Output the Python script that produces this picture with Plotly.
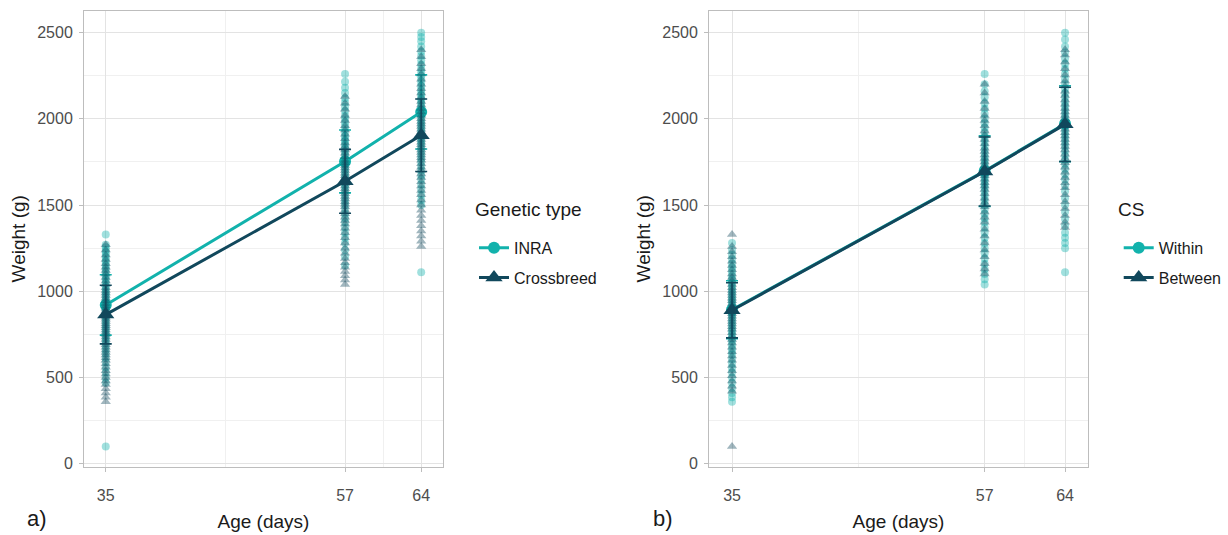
import plotly.graph_objects as go

# ---------------- data ----------------
AGES = [35, 57, 64]
TICK_X = [35, 57, 64]
TICK_Y = [0, 500, 1000, 1500, 2000, 2500]

# Panel a) : Genetic type
INRA_35 = [100, 470, 500, 530, 560, 590, 615, 640, 660, 680, 700, 715, 730, 745, 760, 775, 790, 805, 820, 835, 850,
           862, 875, 888, 900, 912, 925, 938, 950, 962, 975, 988, 1000, 1015, 1030, 1045, 1060, 1075, 1090, 1105,
           1120, 1135, 1150, 1165, 1180, 1195, 1210, 1225, 1240, 1255, 1270, 1330]
INRA_57 = [1150, 1200, 1240, 1280, 1310, 1340, 1370, 1400, 1425, 1450, 1475, 1500, 1520, 1540, 1560, 1580, 1600, 1615,
           1630, 1645, 1660, 1675, 1690, 1705, 1720, 1735, 1750, 1765, 1780, 1795, 1810, 1825, 1840, 1855, 1870, 1885,
           1900, 1920, 1940, 1960, 1980, 2000, 2020, 2045, 2070, 2095, 2120, 2150, 2180, 2215, 2260]
INRA_64 = [1110, 1500, 1530, 1560, 1590, 1620, 1650, 1675, 1700, 1725, 1750, 1770, 1790, 1810, 1830, 1850, 1865, 1880,
           1895, 1910, 1925, 1940, 1955, 1970, 1985, 2000, 2015, 2030, 2045, 2060, 2075, 2090, 2105, 2120, 2135, 2150,
           2170, 2190, 2210, 2230, 2250, 2270, 2290, 2315, 2340, 2365, 2390, 2420, 2450, 2475, 2500]
CROSS_35 = [360, 385, 410, 435, 460, 480, 500, 520, 540, 560, 580, 600, 615, 630, 645, 660, 675, 690, 705, 720, 735,
            750, 762, 775, 788, 800, 812, 825, 838, 850, 862, 875, 888, 900, 915, 930, 945, 960, 975, 990, 1005, 1020,
            1040, 1060, 1080, 1100, 1120, 1140, 1160, 1185, 1210, 1240, 1270]
CROSS_57 = [1040, 1065, 1090, 1115, 1140, 1165, 1190, 1220, 1250, 1280, 1310, 1340, 1365, 1390, 1410, 1430, 1450, 1470,
            1490, 1505, 1520, 1535, 1550, 1565, 1580, 1595, 1610, 1625, 1640, 1655, 1670, 1685, 1700, 1715, 1730, 1745,
            1760, 1780, 1800, 1820, 1840, 1860, 1885, 1910, 1935, 1960, 1990, 2020, 2055, 2090, 2130]
CROSS_64 = [1260, 1290, 1320, 1350, 1380, 1410, 1440, 1470, 1500, 1530, 1560, 1585, 1610, 1635, 1660, 1680, 1700, 1720,
            1740, 1760, 1775, 1790, 1805, 1820, 1835, 1850, 1865, 1880, 1895, 1910, 1925, 1940, 1955, 1970, 1985, 2000,
            2020, 2040, 2060, 2080, 2100, 2125, 2150, 2175, 2200, 2230, 2260, 2290, 2320, 2360, 2400]
INRA_MEAN = [921, 1753, 2040]
INRA_SD = [175, 182, 215]
CROSS_MEAN = [865, 1638, 1905]
CROSS_SD = [170, 185, 210]

# Panel b) : CS
WITHIN_35 = [360, 385, 410, 440, 470, 500, 530, 555, 580, 605, 630, 650, 670, 690, 710, 725, 740, 755, 770, 785, 800,
             815, 830, 845, 860, 872, 885, 898, 910, 922, 935, 948, 960, 975, 990, 1005, 1020, 1035, 1050, 1065, 1080,
             1100, 1120, 1140, 1160, 1185, 1210, 1240, 1280]
WITHIN_57 = [1040, 1070, 1100, 1130, 1160, 1190, 1220, 1250, 1280, 1310, 1340, 1370, 1400, 1425, 1450, 1475, 1500, 1520,
             1540, 1560, 1580, 1600, 1615, 1630, 1645, 1660, 1675, 1690, 1705, 1720, 1735, 1750, 1765, 1780, 1800, 1820,
             1840, 1860, 1880, 1900, 1925, 1950, 1975, 2000, 2030, 2060, 2090, 2125, 2160, 2200, 2260]
WITHIN_64 = [1110, 1250, 1280, 1310, 1340, 1380, 1420, 1460, 1500, 1540, 1580, 1615, 1650, 1680, 1710, 1740, 1765, 1790,
             1815, 1840, 1860, 1880, 1900, 1920, 1940, 1960, 1980, 2000, 2020, 2040, 2060, 2080, 2100, 2125, 2150, 2175,
             2200, 2230, 2260, 2290, 2320, 2350, 2385, 2420, 2460, 2500]
BETWEEN_35 = [100, 420, 450, 480, 510, 540, 570, 600, 625, 650, 675, 700, 720, 740, 760, 780, 795, 810, 825, 840, 855,
              870, 885, 900, 915, 930, 945, 960, 975, 990, 1005, 1020, 1040, 1060, 1080, 1100, 1125, 1150, 1175, 1200,
              1230, 1260, 1330]
BETWEEN_57 = [1100, 1130, 1160, 1200, 1240, 1280, 1320, 1360, 1400, 1430, 1460, 1490, 1515, 1540, 1565, 1590, 1610, 1630,
              1650, 1670, 1690, 1710, 1730, 1750, 1770, 1790, 1810, 1830, 1855, 1880, 1905, 1930, 1960, 1990, 2020, 2060,
              2100, 2150, 2200]
BETWEEN_64 = [1370, 1400, 1440, 1480, 1520, 1560, 1600, 1630, 1660, 1690, 1720, 1745, 1770, 1795, 1820, 1840, 1860, 1880,
              1900, 1920, 1940, 1960, 1980, 2000, 2020, 2040, 2060, 2085, 2110, 2135, 2160, 2190, 2220, 2255, 2290, 2330,
              2370, 2400]
WITHIN_MEAN = [893, 1697, 1972]
WITHIN_SD = [168, 205, 220]
BETWEEN_MEAN = [890, 1695, 1968]
BETWEEN_SD = [160, 200, 215]

TEAL = "#12B2AC"
DARK = "#11485C"
FONT = "Liberation Sans"
TXT = "#1A1A1A"

fig = go.Figure()


def add_group(xa, ya, cols, mean, sd, color, symbol, name, legend, pt_size, mean_size):
    for age, vals in zip(AGES, cols):
        fig.add_trace(go.Scatter(
            x=[age] * len(vals), y=vals, mode="markers", xaxis=xa, yaxis=ya,
            marker=dict(symbol=symbol, size=pt_size, color=color, opacity=0.4, line=dict(width=0)),
            showlegend=False, hoverinfo="skip"))
    fig.add_trace(go.Scatter(
        x=AGES, y=mean, mode="lines+markers", name=name, xaxis=xa, yaxis=ya, legend=legend,
        legendgroup=name,
        line=dict(color=color, width=3),
        marker=dict(symbol=symbol, size=mean_size, color=color),
        error_y=dict(type="data", array=sd, color=color, thickness=1.6, width=6)))


add_group("x", "y", [INRA_35, INRA_57, INRA_64], INRA_MEAN, INRA_SD, TEAL, "circle", "INRA", "legend", 8, 12)
add_group("x", "y", [CROSS_35, CROSS_57, CROSS_64], CROSS_MEAN, CROSS_SD, DARK, "triangle-up", "Crossbreed", "legend", 9, 15)
add_group("x2", "y2", [WITHIN_35, WITHIN_57, WITHIN_64], WITHIN_MEAN, WITHIN_SD, TEAL, "circle", "Within", "legend2", 8, 12)
add_group("x2", "y2", [BETWEEN_35, BETWEEN_57, BETWEEN_64], BETWEEN_MEAN, BETWEEN_SD, DARK, "triangle-up", "Between", "legend2", 9, 15)

GRID = "#E3E3E3"
BORDER = "#BDBDBD"


def xaxis(domain, anchor):
    return dict(domain=domain, anchor=anchor, range=[33.0, 66.0], tickvals=TICK_X,
                showgrid=True, gridcolor=GRID, gridwidth=1,
                minor=dict(tickvals=[46, 60.5], showgrid=True, gridcolor="#F0F0F0", gridwidth=0.8, ticklen=0),
                showline=True, mirror=True, linecolor=BORDER, linewidth=1,
                ticks="outside", ticklen=4, tickcolor=BORDER, zeroline=False,
                ticklabelstandoff=10,
                tickfont=dict(family=FONT, size=16, color="#4D4D4D"),
                title=dict(text="Age (days)", font=dict(family=FONT, size=19, color=TXT), standoff=11))


def yaxis(domain, anchor):
    return dict(domain=domain, anchor=anchor, range=[-17, 2626], tickvals=TICK_Y,
                showgrid=True, gridcolor=GRID, gridwidth=1,
                minor=dict(tickvals=[250, 750, 1250, 1750, 2250], showgrid=True, gridcolor="#F0F0F0", gridwidth=0.8, ticklen=0),
                showline=True, mirror=True, linecolor=BORDER, linewidth=1,
                ticks="outside", ticklen=4, tickcolor=BORDER, zeroline=False,
                ticklabelstandoff=3,
                tickfont=dict(family=FONT, size=16, color="#4D4D4D"),
                title=dict(text="Weight (g)", font=dict(family=FONT, size=19, color=TXT), standoff=6))


YDOM = [0.1178, 0.9794]
LEG = dict(yanchor="top", xanchor="left", bgcolor="rgba(0,0,0,0)", tracegroupgap=6,
           font=dict(family=FONT, size=16, color=TXT))
fig.update_layout(
    width=1228, height=535, margin=dict(l=0, r=0, t=0, b=0),
    paper_bgcolor="white", plot_bgcolor="white",
    font=dict(family=FONT),
    xaxis=xaxis([0.0684, 0.3607], "y"), yaxis=yaxis(YDOM, "x"),
    xaxis2=xaxis([0.5774, 0.886], "y2"), yaxis2=yaxis(YDOM, "x2"),
    legend=dict(LEG, x=0.386, y=0.5636),
    legend2=dict(LEG, x=0.911, y=0.5636),
    annotations=[
        # legend titles
        dict(text="Genetic type", x=0.385, y=1 - 212 / 535, xref="paper", yref="paper", showarrow=False,
             xanchor="left", yanchor="middle", font=dict(family=FONT, size=19, color=TXT)),
        dict(text="CS", x=0.909, y=1 - 212 / 535, xref="paper", yref="paper", showarrow=False,
             xanchor="left", yanchor="middle", font=dict(family=FONT, size=19, color=TXT)),
        # panel tags
        dict(text="a)", x=0.030, y=0.019, xref="paper", yref="paper", showarrow=False,
             xanchor="center", yanchor="middle", font=dict(family=FONT, size=22, color=TXT)),
        dict(text="b)", x=0.540, y=0.019, xref="paper", yref="paper", showarrow=False,
             xanchor="center", yanchor="middle", font=dict(family=FONT, size=22, color=TXT)),
    ],
)

fig.write_html("out.html")
